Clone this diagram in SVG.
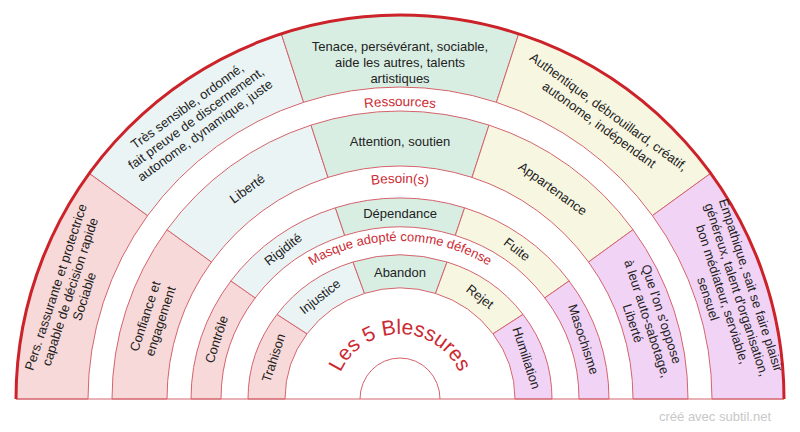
<svg xmlns="http://www.w3.org/2000/svg" width="800" height="432" viewBox="0 0 800 432">
<style>
.s{stroke:#d4636c;stroke-width:1}
.p{fill:#f8d9d9}.b{fill:#eaf4f5}.g{fill:#d9eee3}.y{fill:#f7f6e1}.v{fill:#f1d3f6}
text{font-family:"Liberation Sans",Arial,sans-serif;font-size:13px;fill:#222;text-anchor:middle;dominant-baseline:central}
.lab{fill:#cc2a33;font-size:13.5px;dominant-baseline:auto}
</style>
<defs>
<path id="arcR" d="M107,399 A293,293 0 0 1 693,399"/>
<path id="arcB" d="M184,399 A216,216 0 0 1 616,399"/>
<path id="arcM" d="M235,399 A165,158 0 0 1 565,399"/>
<path id="arcT" d="M335,399 A65,65 0 0 1 465,399"/>
</defs>
<rect width="800" height="432" fill="#fff"/>
<g id="ring-ressources" class="s">
<path class="p" d="M16,399 A384,384 0 0 1 89.3,173.3 L147.6,215.6 A312,312 0 0 0 88,399 Z"/>
<path class="b" d="M89.3,173.3 A384,384 0 0 1 281.3,33.8 L303.6,102.3 A312,312 0 0 0 147.6,215.6 Z"/>
<path class="g" d="M281.3,33.8 A384,384 0 0 1 518.7,33.8 L496.4,102.3 A312,312 0 0 0 303.6,102.3 Z"/>
<path class="y" d="M518.7,33.8 A384,384 0 0 1 710.7,173.3 L652.4,215.6 A312,312 0 0 0 496.4,102.3 Z"/>
<path class="v" d="M710.7,173.3 A384,384 0 0 1 784,399 L712,399 A312,312 0 0 0 652.4,215.6 Z"/>
</g>
<g id="ring-besoins" class="s">
<path class="p" d="M112,399 A288,288 0 0 1 167,229.7 L211.5,262 A233,233 0 0 0 167,399 Z"/>
<path class="b" d="M167,229.7 A288,288 0 0 1 311,125.1 L328,177.4 A233,233 0 0 0 211.5,262 Z"/>
<path class="g" d="M311,125.1 A288,288 0 0 1 489,125.1 L472,177.4 A233,233 0 0 0 328,177.4 Z"/>
<path class="y" d="M489,125.1 A288,288 0 0 1 633,229.7 L588.5,262 A233,233 0 0 0 472,177.4 Z"/>
<path class="v" d="M633,229.7 A288,288 0 0 1 688,399 L633,399 A233,233 0 0 0 588.5,262 Z"/>
</g>
<g id="ring-masque" class="s">
<path class="p" d="M191,399 A209,201 0 0 1 230.9,280.9 L255.2,297.9 A179,172 0 0 0 221,399 Z"/>
<path class="b" d="M230.9,280.9 A209,201 0 0 1 335.4,207.8 L344.7,235.4 A179,172 0 0 0 255.2,297.9 Z"/>
<path class="g" d="M335.4,207.8 A209,201 0 0 1 464.6,207.8 L455.3,235.4 A179,172 0 0 0 344.7,235.4 Z"/>
<path class="y" d="M464.6,207.8 A209,201 0 0 1 569.1,280.9 L544.8,297.9 A179,172 0 0 0 455.3,235.4 Z"/>
<path class="v" d="M569.1,280.9 A209,201 0 0 1 609,399 L579,399 A179,172 0 0 0 544.8,297.9 Z"/>
</g>
<g id="ring-blessures" class="s">
<path class="p" d="M248,399 A152,144 0 0 1 277,314.4 L307,333.8 A115,111 0 0 0 285,399 Z"/>
<path class="b" d="M277,314.4 A152,144 0 0 1 353,262 L364.5,293.4 A115,111 0 0 0 307,333.8 Z"/>
<path class="g" d="M353,262 A152,144 0 0 1 447,262 L435.5,293.4 A115,111 0 0 0 364.5,293.4 Z"/>
<path class="y" d="M447,262 A152,144 0 0 1 523,314.4 L493,333.8 A115,111 0 0 0 435.5,293.4 Z"/>
<path class="v" d="M523,314.4 A152,144 0 0 1 552,399 L515,399 A115,111 0 0 0 493,333.8 Z"/>
</g>
<g id="frame" fill="none">
<path d="M360,399 A40,41 0 0 1 440,399" class="s"/>
<line x1="16" y1="399" x2="784" y2="399" class="s"/>
<path d="M16,399 A384,384 0 0 1 784,399" stroke="#cc2229" stroke-width="3"/>
</g>
<g id="labels">
<text class="lab"><textPath href="#arcR" startOffset="50%">Ressources</textPath></text>
<text class="lab"><textPath href="#arcB" startOffset="50%">Besoin(s)</textPath></text>
<text class="lab" style="font-size:13px"><textPath href="#arcM" startOffset="50%">Masque adopté comme défense</textPath></text>
<text class="lab" style="font-size:21px"><textPath href="#arcT" startOffset="50%">Les 5 Blessures</textPath></text>
</g>
<g id="t-ressources">
<g transform="translate(400,399) rotate(-72)"><text y="-362">Pers. rassurante et protectrice</text><text y="-347">capable de décision rapide</text><text y="-332">Sociable</text></g>
<g transform="translate(400,399) rotate(-36)"><text y="-362">Très sensible, ordonné,</text><text y="-347">fait preuve de discernement,</text><text y="-332">autonome, dynamique, juste</text></g>
<g transform="translate(400,399) rotate(0)"><text y="-353">Tenace, persévérant, sociable,</text><text y="-337">aide les autres, talents</text><text y="-321">artistiques</text></g>
<g transform="translate(400,399) rotate(36)"><text y="-355">Authentique, débrouillard, créatif,</text><text y="-339">autonome, indépendant</text></g>
<g transform="translate(400,399) rotate(72)"><text y="-369">Empathique, sait se faire plaisir</text><text y="-354">généreux, talent d'organisation,</text><text y="-339">bon médiateur, serviable,</text><text y="-324">sensuel</text></g>
</g>
<g id="t-besoins">
<g transform="translate(400,399) rotate(-72)"><text y="-268">Confiance et</text><text y="-252">engagement</text></g>
<g transform="translate(400,399) rotate(-36)"><text y="-260">Liberté</text></g>
<g transform="translate(400,399) rotate(0)"><text y="-258">Attention, soutien</text></g>
<g transform="translate(400,399) rotate(36)"><text y="-260">Appartenance</text></g>
<g transform="translate(400,399) rotate(72)"><text y="-275">Que l'on s'oppose</text><text y="-260">à leur auto-sabotage,</text><text y="-245">Liberté</text></g>
</g>
<g id="t-masque">
<g transform="translate(400,399) rotate(-72)"><text y="-193">Contrôle</text></g>
<g transform="translate(400,399) rotate(-38)"><text y="-190">Rigidité</text></g>
<g transform="translate(400,399) rotate(0)"><text y="-186">Dépendance</text></g>
<g transform="translate(400,399) rotate(38)"><text y="-190">Fuite</text></g>
<g transform="translate(400,399) rotate(72)"><text y="-193">Masochisme</text></g>
</g>
<g id="t-blessures">
<g transform="translate(400,399) rotate(-72)"><text y="-133">Trahison</text></g>
<g transform="translate(400,399) rotate(-38)"><text y="-130">Injustice</text></g>
<g transform="translate(400,399) rotate(0)"><text y="-127">Abandon</text></g>
<g transform="translate(400,399) rotate(38)"><text y="-130">Rejet</text></g>
<g transform="translate(400,399) rotate(72)"><text y="-133">Humiliation</text></g>
</g>
<text x="715" y="416" style="fill:#c8c8c8;font-size:13px">créé avec subtil.net</text>
</svg>
